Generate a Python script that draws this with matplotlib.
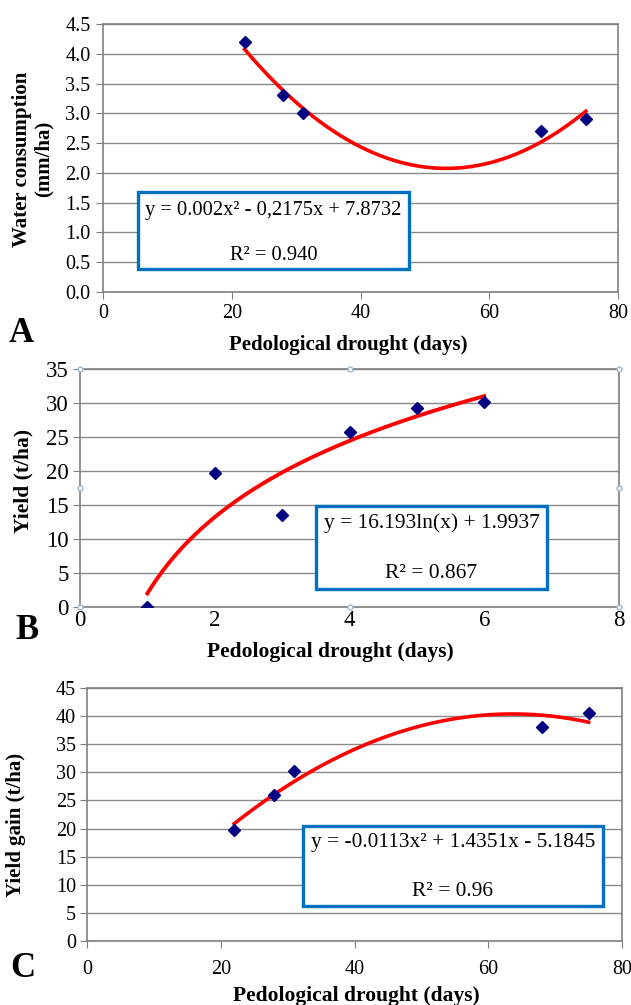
import numpy as np
import matplotlib
matplotlib.use('Agg')
import matplotlib.pyplot as plt
from matplotlib.patches import Rectangle

plt.rcParams['font.family'] = ['Liberation Serif', 'DejaVu Serif']

# data
a_days = [22, 28, 31, 68, 75]
a_water = [4.2, 3.3, 3.0, 2.7, 2.9]

b_days = [1, 2, 3, 4, 5, 6]
b_yield = [0.0, 19.7, 13.6, 25.7, 29.3, 30.2]

c_days = [22, 28, 31, 68, 75]
c_gain = [19.7, 26.0, 30.2, 38.0, 40.5]

eq_a = ['y = 0.002x² - 0,2175x + 7.8732', 'R² = 0.940']
eq_b = ['y = 16.193ln(x) + 1.9937', 'R² = 0.867']
eq_c = ['y = -0.0113x² + 1.4351x - 5.1845', 'R² = 0.96']

W, H = 631, 1005
fig = plt.figure(figsize=(W / 100, H / 100), dpi=100)


def px(x, y):
    return x / W, 1 - y / H


def make_axes(left, top, right, bottom):
    ax = fig.add_axes([left / W, 1 - bottom / H, (right - left) / W, (bottom - top) / H])
    for s in ax.spines.values():
        s.set_color('#808080')
        s.set_linewidth(1.2)
    ax.yaxis.grid(True, color='#8a8a8a', lw=1)
    ax.set_axisbelow(True)
    ax.tick_params(direction='out', length=5, color='#808080', top=False, right=False)
    return ax


def eq_box(x0, y0, x1, y1, lines, size, y_eq, y_r2):
    fig.patches.append(Rectangle(px(x0, y1), (x1 - x0) / W, (y1 - y0) / H,
                                 transform=fig.transFigure, facecolor='white',
                                 edgecolor='#0070C0', lw=2.4, zorder=5))
    cx = (x0 + x1) / 2
    fig.text(*px(cx, y_eq), lines[0], ha='center', va='center', fontsize=size, zorder=6)
    fig.text(*px(cx, y_r2), lines[1], ha='center', va='center', fontsize=size, zorder=6)


# ---- A: water consumption ----
ax = make_axes(103, 24, 618, 292)
ax.plot(a_days, a_water, 'D', color='#000080', ms=6.5, zorder=4)
coef = np.polyfit(a_days, a_water, 2)
xs = np.linspace(min(a_days), max(a_days), 200)
ax.plot(xs, np.polyval(coef, xs), color='#FF0000', lw=2.6, zorder=3)
ax.set_xlim(0, 80)
ax.set_ylim(0, 4.5)
ax.set_xticks(np.arange(0, 81, 20))
ax.set_yticks(np.arange(0, 4.51, 0.5))
ax.set_yticklabels(['%.1f' % v for v in np.arange(0, 4.51, 0.5)])
ax.tick_params(labelsize=14.5, pad=4)
fig.text(*px(22, 159), 'Water consumption', rotation=90, ha='center', va='center',
         fontsize=15, fontweight='bold')
fig.text(*px(44, 159), '(mm/ha)', rotation=90, ha='center', va='center',
         fontsize=15, fontweight='bold')
fig.text(*px(348, 345), 'Pedological drought (days)', ha='center', va='center',
         fontsize=15, fontweight='bold')
fig.text(*px(21, 333), 'A', ha='center', va='center', fontsize=25, fontweight='bold')
eq_box(138, 192, 409, 269, eq_a, 14.8, 210, 255)

# ---- B: yield ----
ax = make_axes(80, 369, 619, 607)
ax.plot(b_days, b_yield, 'D', color='#000080', ms=6.5, zorder=4)
coef = np.polyfit(np.log(b_days), b_yield, 1)
xs = np.linspace(min(b_days), max(b_days), 200)
ax.plot(xs, np.polyval(coef, np.log(xs)), color='#FF0000', lw=2.8, zorder=3)
ax.set_xlim(0, 8)
ax.set_ylim(0, 35)
ax.set_xticks(np.arange(0, 9, 2))
ax.set_yticks(np.arange(0, 36, 5))
ax.tick_params(labelsize=16.5)
ax.tick_params(axis='x', length=0, pad=2)
ax.tick_params(axis='y', pad=3)
# chart selection handles
hx = [0, 0.5, 1, 0, 1, 0, 0.5, 1]
hy = [0, 0, 0, 0.5, 0.5, 1, 1, 1]
ax.plot(hx, hy, 'o', ms=3.5, mfc='white', mec='#9ab8cc', mew=1, transform=ax.transAxes,
        clip_on=False, zorder=6)
fig.text(*px(23, 481), 'Yield (t/ha)', rotation=90, ha='center', va='center',
         fontsize=15.5, fontweight='bold')
fig.text(*px(330, 652), 'Pedological drought (days)', ha='center', va='center',
         fontsize=15.5, fontweight='bold')
fig.text(*px(27, 630), 'B', ha='center', va='center', fontsize=25, fontweight='bold')
eq_box(316, 506, 547, 589, eq_b, 15.5, 523, 573)

# ---- C: yield gain ----
ax = make_axes(87, 688, 622, 941)
ax.plot(c_days, c_gain, 'D', color='#000080', ms=6.5, zorder=4)
coef = np.polyfit(c_days, c_gain, 2)
xs = np.linspace(min(c_days), max(c_days), 200)
ax.plot(xs, np.polyval(coef, xs), color='#FF0000', lw=2.6, zorder=3)
ax.set_xlim(0, 80)
ax.set_ylim(0, 45)
ax.set_xticks(np.arange(0, 81, 20))
ax.set_yticks(np.arange(0, 46, 5))
ax.tick_params(labelsize=14.5)
ax.tick_params(axis='x', pad=9)
ax.tick_params(axis='y', pad=3)
fig.text(*px(16, 825), 'Yield gain (t/ha)', rotation=90, ha='center', va='center',
         fontsize=15, fontweight='bold')
fig.text(*px(356, 996), 'Pedological drought (days)', ha='center', va='center',
         fontsize=15.5, fontweight='bold')
fig.text(*px(23, 968), 'C', ha='center', va='center', fontsize=25, fontweight='bold')
eq_box(303, 826, 603, 906, eq_c, 15.4, 842, 891)

fig.savefig('out.png', dpi=100, facecolor='white')
